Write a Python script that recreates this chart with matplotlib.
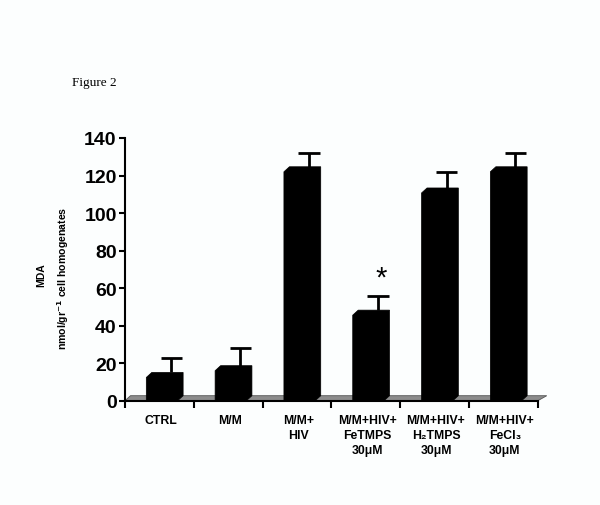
import numpy as np
import matplotlib
matplotlib.use("Agg")
import matplotlib.pyplot as plt
from matplotlib.patches import Polygon

plt.rcParams['font.family'] = ['Liberation Sans', 'DejaVu Sans']

# data (front face heights, SEM)
groups = ["CTRL", "M/M", "M/M+\nHIV", "M/M+HIV+\nFeTMPS\n30\u03bcM",
          "M/M+HIV+\nH\u2082TMPS\n30\u03bcM", "M/M+HIV+\nFeCl\u2083\n30\u03bcM"]
mda = [12.4, 16.0, 122.0, 45.6, 110.7, 122.0]
sem = [7.5, 9.3, 7.1, 7.7, 8.3, 7.1]
y_ticks = [0, 20, 40, 60, 80, 100, 120, 140]

fig = plt.figure(figsize=(6, 5.06), dpi=100)
fig.patch.set_facecolor('#fcfefe')
ax = fig.add_axes([0.2083, 0.2061, 0.711, 0.5192])
ax.set_facecolor('none')

dx, dy = 0.08, 2.67   # fake 3D depth
# gray floor
floor = Polygon([(0.0, 0), (6.0, 0), (6.13, dy), (0.08, dy)], closed=True,
                facecolor='#8c8c8c', edgecolor='#555555', lw=0.6, zorder=1)
ax.add_patch(floor)

for i, (v, e) in enumerate(zip(mda, sem)):
    x0 = i + 0.31
    w = 0.455
    pts = [(x0, 0), (x0 + w, 0), (x0 + w + dx, dy), (x0 + w + dx, v + dy),
           (x0 + dx, v + dy), (x0, v)]
    ax.add_patch(Polygon(pts, closed=True, facecolor='black', edgecolor='black',
                         lw=0.5, zorder=3))
    xe = i + 0.675
    ax.plot([xe, xe], [v + dy, v + dy + e], color='black', lw=2, zorder=2,
            solid_capstyle='butt')
    ax.plot([xe - 0.155, xe + 0.155], [v + dy + e] * 2, color='black', lw=2,
            zorder=2, solid_capstyle='butt')

ax.text(3.73, 65.5, "*", ha='center', va='center', fontsize=21)

ax.set_xlim(0, 6.2)
ax.set_ylim(0, 140)
ax.spines['top'].set_visible(False)
ax.spines['right'].set_visible(False)
ax.spines['left'].set_linewidth(1.5)
ax.spines['bottom'].set_linewidth(1.5)
ax.spines['bottom'].set_bounds(0, 6)
ax.set_yticks(y_ticks)
ax.set_yticklabels([str(t) for t in y_ticks], fontsize=14, fontweight='bold')
ax.tick_params(axis='y', direction='out', length=4, width=1.5, pad=2)
ax.set_xticks(range(7))
ax.set_xticklabels([])
ax.tick_params(axis='x', direction='out', length=5, width=1.5)

for i, g in enumerate(groups):
    ax.text(i + 0.52, -7.0, g, ha='center', va='top', fontsize=8.8,
            fontweight='bold', linespacing=1.35)

fig.text(41.7 / 600, 1 - 275 / 506, "MDA", rotation=90, ha='center',
         va='center', fontsize=7.5, fontweight='bold')
fig.text(62.7 / 600, 1 - 278 / 506, "nmol/gr$^{\\mathbf{-1}}$ cell homogenates",
         rotation=90, ha='center', va='center', fontsize=7.6, fontweight='bold')
fig.text(71.7 / 600, 1 - 83 / 506, "Figure 2", ha='left', va='center',
         fontsize=9.5, family='Liberation Serif')

fig.savefig("out.png", dpi=100, facecolor=fig.get_facecolor())
